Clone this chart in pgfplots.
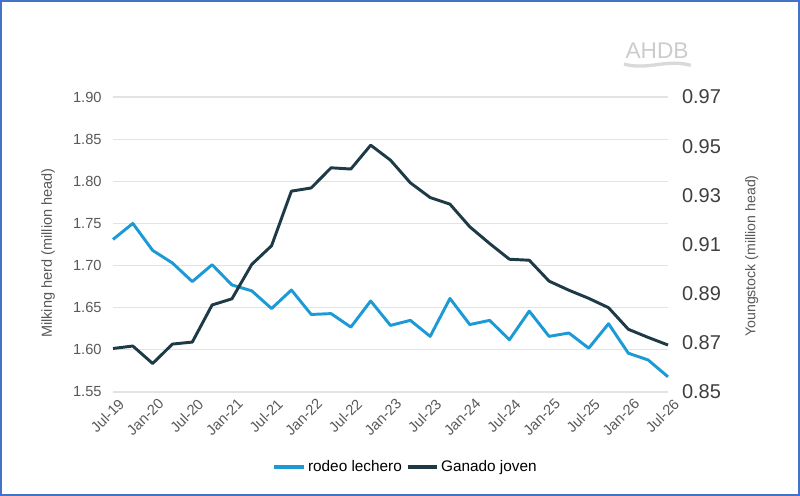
\documentclass[border=0pt]{standalone}
\usepackage{fontspec}
\setmainfont{Liberation Sans}
\usepackage{pgfplots}
\pgfplotsset{compat=1.18}
\definecolor{cblue}{HTML}{1B9AD6}
\definecolor{cdark}{HTML}{1D3A46}
\definecolor{frameblue}{HTML}{4472C4}
\definecolor{tickgray}{HTML}{595959}
\definecolor{gridgray}{HTML}{E3E3E3}
\begin{document}
\begin{tikzpicture}
\useasboundingbox (0,0) rectangle (600pt,372pt);
\fill[white] (0,0) rectangle (600pt,372pt);
\draw[frameblue, line width=1.5pt] (0.75pt,0.75pt) rectangle (599.25pt,371.25pt);
% logo
\node[text=black!20, font=\fontsize{17}{17}\selectfont, inner sep=0] at (492.75pt,334pt) {AHDB};
\draw[black!15, line width=2.5pt] (468pt,324pt) .. controls (485pt,319pt) and (500pt,328pt) .. (518pt,323pt);
\begin{axis}[
  at={(84.75pt,78pt)}, anchor=south west,
  scale only axis, width=416.25pt, height=221.25pt,
  xmin=0, xmax=28, ymin=1.55, ymax=1.90,
  ytick={1.55,1.60,1.65,1.70,1.75,1.80,1.85,1.90},
  yticklabel style={/pgf/number format/fixed, /pgf/number format/fixed zerofill, /pgf/number format/precision=2, text=tickgray, font=\fontsize{11}{12}\selectfont, xshift=-5pt},
  /pgf/number format/assume math mode=true,
  xtick={0,2,...,28},
  xticklabels={Jul-19,Jan-20,Jul-20,Jan-21,Jul-21,Jan-22,Jul-22,Jan-23,Jul-23,Jan-24,Jul-24,Jan-25,Jul-25,Jan-26,Jul-26},
  xticklabel style={rotate=45, anchor=north east, text=tickgray, font=\fontsize{11}{12}\selectfont, xshift=3pt, yshift=-2pt},
  ymajorgrids, grid style={gridgray, line width=0.9pt},
  axis line style={draw=none}, major tick length=0pt,
  ylabel={Milking herd (million head)},
  ylabel style={at={(axis description cs:-0.117,0.471)}, anchor=center, text=tickgray, font=\fontsize{10.9}{12}\selectfont},
  clip=false,
]
\addplot[cblue, line width=2.2pt, line join=round] coordinates {
(0,1.731) (1,1.750) (2,1.718) (3,1.703) (4,1.681) (5,1.701) (6,1.677) (7,1.670)
(8,1.649) (9,1.671) (10,1.642) (11,1.643) (12,1.627) (13,1.658) (14,1.629) (15,1.635)
(16,1.616) (17,1.661) (18,1.630) (19,1.635) (20,1.612) (21,1.646) (22,1.616) (23,1.620)
(24,1.602) (25,1.631) (26,1.596) (27,1.588) (28,1.568)};
\end{axis}
\begin{axis}[
  at={(84.75pt,78pt)}, anchor=south west,
  scale only axis, width=416.25pt, height=221.25pt,
  xmin=0, xmax=28, ymin=0.85, ymax=0.97,
  axis y line*=right, axis x line=none,
  ytick={0.85,0.87,0.89,0.91,0.93,0.95,0.97},
  yticklabel style={/pgf/number format/fixed, /pgf/number format/fixed zerofill, /pgf/number format/precision=2, text=black!75, font=\fontsize{15}{16}\selectfont, xshift=7pt},
  /pgf/number format/assume math mode=true,
  axis line style={draw=none}, major tick length=0pt,
  ylabel={Youngstock (million head)},
  ylabel style={at={(axis description cs:1.151,0.461)}, anchor=center, rotate=0, text=tickgray, font=\fontsize{10.6}{12}\selectfont},
  legend style={at={(axis description cs:0.528,-0.254)}, anchor=center, draw=none, fill=none,
    legend columns=2, font=\fontsize{11.5}{12}\selectfont,
    /tikz/every even column/.append style={column sep=1pt}},
  legend cell align=left,
  legend image code/.code={\draw[#1, line width=2.5pt] (0pt,0pt) -- (22pt,0pt);},
  clip=false,
]
\addlegendimage{cblue}
\addlegendentry{rodeo lechero}
\addplot[cdark, line width=2.2pt, line join=round] coordinates {
(0,0.8677) (1,0.8687) (2,0.8616) (3,0.8695) (4,0.8703) (5,0.8854) (6,0.8879) (7,0.9019)
(8,0.9095) (9,0.9317) (10,0.9330) (11,0.9412) (12,0.9407) (13,0.9504) (14,0.9443) (15,0.9351)
(16,0.9291) (17,0.9264) (18,0.9172) (19,0.9104) (20,0.9040) (21,0.9036) (22,0.8951) (23,0.8914)
(24,0.8881) (25,0.8843) (26,0.8755) (27,0.8722) (28,0.8691)};
\addlegendentry{Ganado joven}
\end{axis}
\end{tikzpicture}
\end{document}
